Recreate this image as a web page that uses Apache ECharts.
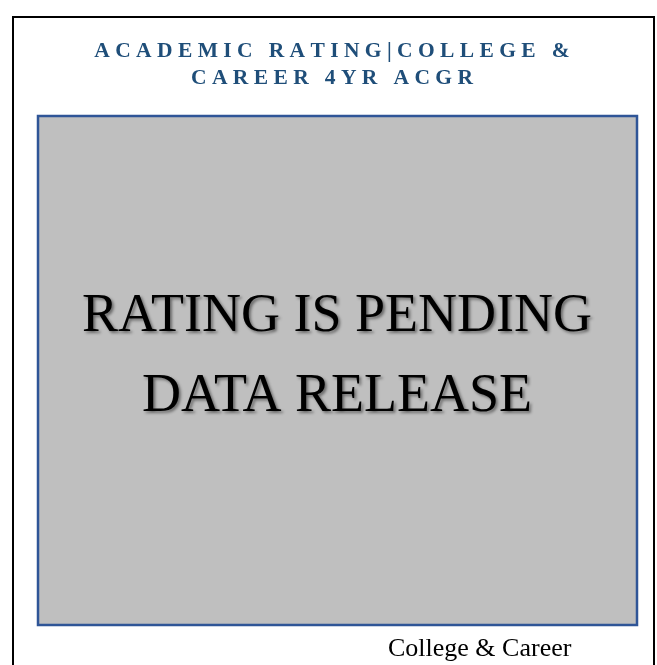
<!DOCTYPE html>
<html>
<head>
<meta charset="utf-8">
<script src="https://cdn.jsdelivr.net/npm/echarts@6/dist/echarts.min.js"></script>
<style>
	html, body { margin: 0; padding: 0; background: #fff; }
	#dom { width: 657px; height: 665px; }
</style>
</head>
<body>
<div id="dom"></div>
<script>
	// chart data
	var titleLines = ['ACADEMIC RATING|COLLEGE &', 'CAREER 4YR ACGR'];
	var categories = ['College & Career'];
	var ratingValues = [null]; // rating not published yet
	var pendingLines = ['RATING IS PENDING', 'DATA RELEASE'];

	// fake letter spacing: a space between letters, three between words
	function spaced(s) {
		return s.split(' ').map(function (w) {
			return w.split('').join(' ')
		}).join('   ')
	}

	var serif = '"Liberation Serif", "Times New Roman", serif';

	var dom = echarts.init(document.getElementById('dom'));
	var option = {
		backgroundColor: '#fff',
		animation: false,
		title: [{
			text: titleLines.map(spaced).join('\n'),
			left: 327,
			top: 33,
			textAlign: 'center',
			textStyle: {
				color: '#1F4E79',
				fontFamily: serif,
				fontWeight: 'bold',
				fontSize: 21.5,
				lineHeight: 27
			}
		}, {
			text: pendingLines.join('\n'),
			left: 332,
			top: 272,
			textAlign: 'center',
			textStyle: {
				color: '#000',
				fontFamily: serif,
				fontWeight: 'normal',
				fontSize: 54,
				lineHeight: 80,
				textShadowColor: 'rgba(0,0,0,0.45)',
				textShadowBlur: 3,
				textShadowOffsetX: 2,
				textShadowOffsetY: 2
			}
		}, {
			text: categories[0],
			left: 383,
			top: 629,
			textStyle: {
				color: '#000',
				fontFamily: serif,
				fontWeight: 'normal',
				fontSize: 26,
				lineHeight: 30
			}
		}],
		graphic: [{
			type: 'rect',
			shape: { x: 13, y: 17, width: 641, height: 700 },
			style: { fill: 'none', stroke: '#000', lineWidth: 2 },
			silent: true
		}],
		grid: {
			show: true,
			left: 38,
			top: 116,
			right: 20,
			bottom: 40,
			backgroundColor: '#BFBFBF',
			borderColor: '#2F5597',
			borderWidth: 2.5
		},
		xAxis: {
			type: 'category',
			data: categories,
			show: false
		},
		yAxis: {
			type: 'value',
			min: 0,
			max: 100,
			show: false
		},
		series: [{
			name: categories[0],
			type: 'bar',
			data: ratingValues
		}]
	};
	dom.setOption(option);
</script>
</body>
</html>
